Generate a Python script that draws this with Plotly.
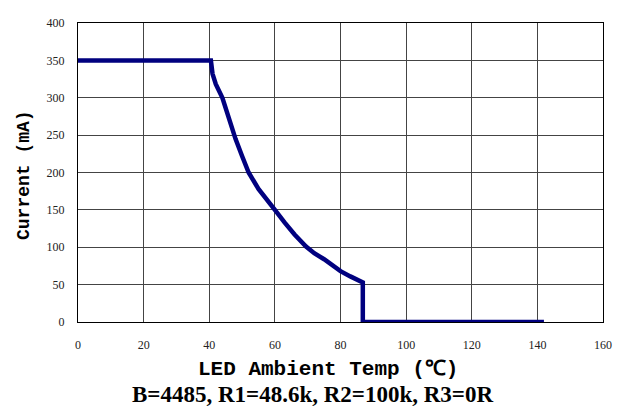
import plotly.graph_objects as go

temp_c = [0, 40.5, 41, 42, 44, 46, 48, 50, 52, 55, 58, 60, 63, 66, 69.5, 72, 75, 78, 80, 83, 86.8, 86.8, 142]
current_ma = [350, 350, 332, 318, 300, 272, 245, 222, 200, 178, 160, 150, 133, 117, 101, 92, 84, 74, 68, 61, 53, 0, 0]

x_ticks = [0, 20, 40, 60, 80, 100, 120, 140, 160]
y_ticks = [0, 50, 100, 150, 200, 250, 300, 350, 400]

x_title = "LED Ambient Temp (℃)"
y_title = "Current (mA)"
caption = "B=4485, R1=48.6k, R2=100k, R3=0R"

SERIF = "'Liberation Serif', 'Times New Roman', Times, serif"
MONO = "'Liberation Mono', 'Courier New', Courier, monospace"

fig = go.Figure()
fig.add_trace(go.Scatter(x=temp_c, y=current_ma, mode="lines",
                         line=dict(color="#00007f", width=4.5), showlegend=False))

tick_font = dict(family=SERIF, size=12, color="#222")
fig.update_xaxes(range=[0, 160], tickvals=x_ticks, showgrid=True, gridcolor="#444", gridwidth=1,
                 showline=True, linecolor="black", linewidth=1, mirror=True, zeroline=False,
                 tickfont=tick_font, ticks="", ticklabelstandoff=12)
fig.update_yaxes(range=[0, 400], tickvals=y_ticks, showgrid=True, gridcolor="#444", gridwidth=1,
                 showline=True, linecolor="black", linewidth=1, mirror=True, zeroline=False,
                 tickfont=tick_font, ticks="", ticklabelstandoff=10)

fig.add_annotation(text="<b>" + x_title + "</b>", xref="paper", yref="paper", x=0.477, y=0,
                   yshift=-47, showarrow=False, font=dict(family=MONO, size=21, color="black"),
                   xanchor="center", yanchor="middle")
fig.add_annotation(text="<b>" + y_title + "</b>", xref="paper", yref="paper", x=0, y=0.49,
                   xshift=-53.5, showarrow=False, font=dict(family=MONO, size=18, color="black"),
                   textangle=-90, xanchor="center", yanchor="middle")
fig.add_annotation(text="<b>" + caption + "</b>", xref="paper", yref="paper", x=0.447, y=0,
                   yshift=-72, showarrow=False,
                   font=dict(family=SERIF, size=23, color="black"),
                   xanchor="center", yanchor="middle")

# page body has an 8px default margin, so the figure is laid out 8px smaller on each side
fig.update_layout(width=612, height=400, margin=dict(l=70, r=16, t=8, b=86),
                  plot_bgcolor="white", paper_bgcolor="white")

fig.write_html("out.html")
